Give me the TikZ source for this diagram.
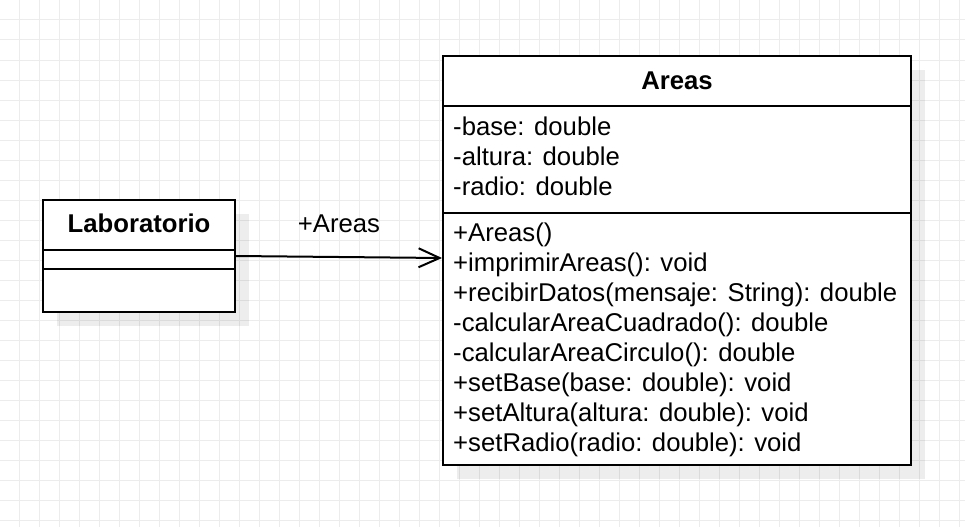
\documentclass[tikz,border=0pt]{standalone}
\usepackage{fontspec}
\setmainfont{Liberation Sans}
\usetikzlibrary{arrows.meta,positioning}
\tikzset{
        % Background grid
        gridline/.style={line width=1pt, gray!15},
        % Class boxes
        classbox/.style={draw=black, line width=2pt, fill=white, inner sep=0pt},
        % Box shadows
        boxshadow/.style={fill=black, opacity=0.07},
        % Compartment separators
        divider/.style={line width=2pt},
        % Class names
        classname/.style={inner sep=0pt, anchor=base, font=\fontsize{25.7}{30}\selectfont\bfseries},
        % Attributes and methods
        member/.style={inner sep=0pt, anchor=base west, font=\fontsize{25.7}{30}\selectfont},
        % Role name on the association
        rolelabel/.style={inner sep=0pt, anchor=base, font=\fontsize{25.7}{30}\selectfont},
        % Association
        assoc/.style={line width=2pt, -{Straight Barb[length=21pt,width=19pt]}}
}
\begin{document}
\begin{tikzpicture}[x=1pt, y=-1pt]
    \useasboundingbox (0,0) rectangle (965,527);
    \foreach \gx in {19.5,39.5,...,959.5}
        \draw[gridline] (\gx,0) -- (\gx,527);
    \foreach \gy in {0,20,...,520}
        \draw[gridline] (0,\gy) -- (965,\gy);

    \fill[boxshadow] (57,214) rectangle (249,326);
    \fill[boxshadow] (457,70) rectangle (925,479);

    \node[classbox, minimum width=192pt, minimum height=112pt] (lab) at (139,256) {};
    \node[classbox, minimum width=468pt, minimum height=409pt] (areas) at (677,260.5) {};

    \draw[divider] (lab.west |- 0,250) -- (lab.east |- 0,250);
    \draw[divider] (lab.west |- 0,269) -- (lab.east |- 0,269);
    \draw[divider] (areas.west |- 0,105.5) -- (areas.east |- 0,105.5);
    \draw[divider] (areas.west |- 0,212.5) -- (areas.east |- 0,212.5);

    \node[classname] (labname) at (139,232.7) {Laboratorio};
    \node[classname] (areasname) at (677,89.3) {Areas};

    \foreach \txt [count=\i] in {-base: double, -altura: double, -radio: double}
        \node[member] (attr\i) at (453, 105+30*\i) {\txt};
    \foreach \txt [count=\i] in {+Areas(), +imprimirAreas(): void,
            +recibirDatos(mensaje: String): double, -calcularAreaCuadrado(): double,
            -calcularAreaCirculo(): double, +setBase(base: double): void,
            +setAltura(altura: double): void, +setRadio(radio: double): void}
        \node[member] (meth\i) at (453, 211.5+30*\i) {\txt};

    \coordinate (labport) at (236,256);
    \coordinate (areasport) at (442,258);
    \draw[assoc] (labport) -- (areasport);
    \node[rolelabel] (role) at (339,232.3) {+Areas};
\end{tikzpicture}
\end{document}
